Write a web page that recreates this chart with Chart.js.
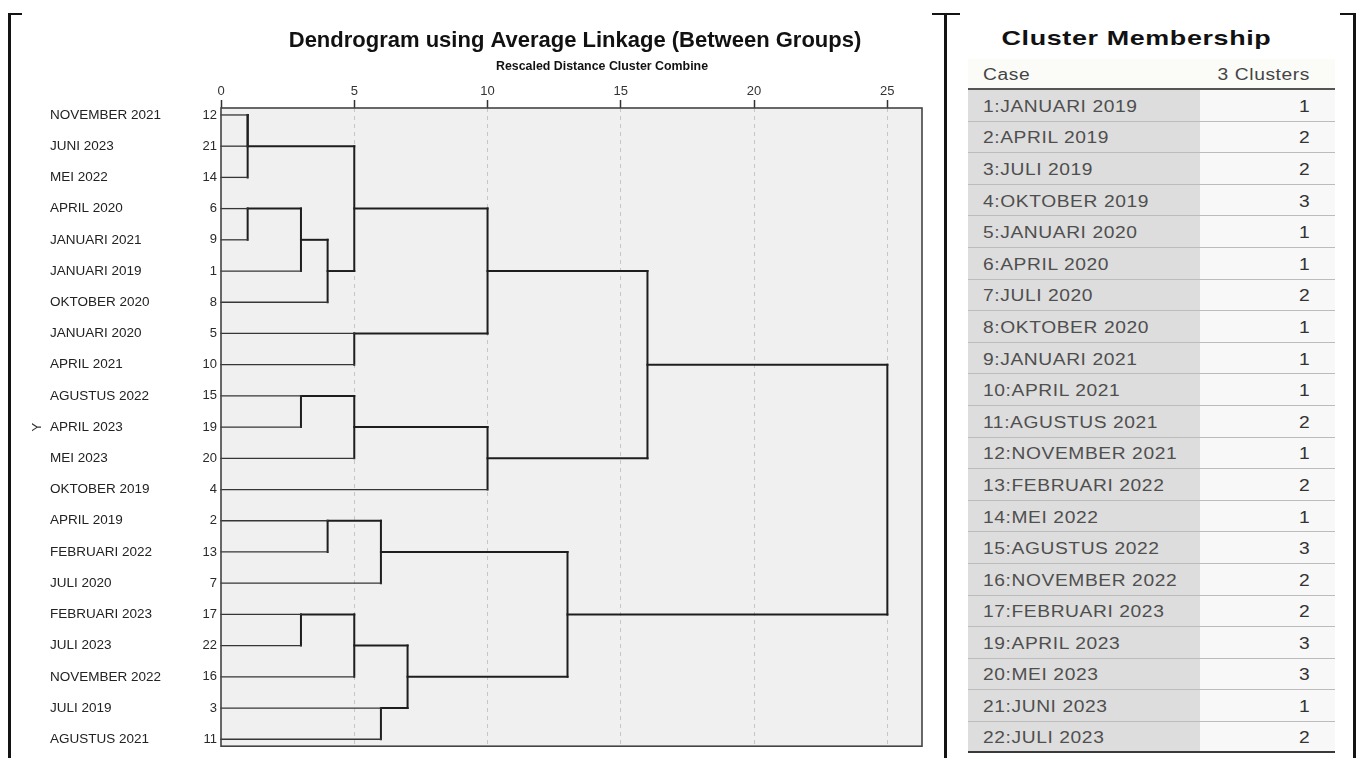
<!DOCTYPE html>
<html>
<head>
<meta charset="utf-8">
<title>Dendrogram using Average Linkage (Between Groups)</title>
<script src="https://cdn.jsdelivr.net/npm/chart.js@4.4.1/dist/chart.umd.min.js"></script>
<style>
  html, body { margin: 0; padding: 0; background: #fff; }
  body { width: 1359px; height: 758px; position: relative; overflow: hidden;
         font-family: "Liberation Sans", Arial, sans-serif; }
  #dendro { position: absolute; left: 0; top: 0; }
  .rule { position: absolute; background: #141414; }
  #membership-title { position: absolute; left: 986px; width: 300px; top: 24px; height: 28px;
         line-height: 28px; text-align: center; white-space: nowrap; }
  #membership-title span { display: inline-block; font-weight: bold; font-size: 21px;
         letter-spacing: 0.5px; color: #111; transform: scaleX(1.28); transform-origin: center center; }
  #membership { position: absolute; left: 968px; top: 59px; width: 367px; }
  .mrow { display: flex; box-sizing: border-box; }
  .mrow > div { display: flex; align-items: center; box-sizing: border-box; white-space: nowrap; }
  .mrow span { display: inline-block; font-size: 16px; letter-spacing: 0.5px; transform: scaleX(1.2); }
  .mhead { height: 31px; background: #fbfbf8; border-bottom: 2px solid #555; }
  .mhead > div { color: #444; }
  .mbody { height: 31.6px; border-bottom: 1px solid #bcbcbc; }
  .mbody.last { border-bottom: 2px solid #3a3a3a; }
  .mcase { width: 232px; padding-left: 15px; padding-top: 3px; }
  .mcase span { transform-origin: left center; }
  .mclus { width: 135px; padding-right: 25px; padding-top: 3px; justify-content: flex-end; }
  .mclus span { transform-origin: right center; }
  .mbody .mcase { background: #dddddd; color: #4f4f4f; }
  .mbody .mclus { background: #f8f8f8; color: #333; }
</style>
</head>
<body>
<canvas id="dendro" width="944" height="758"></canvas>

<div class="rule" style="left:8px;top:13px;width:2.5px;height:745px"></div>
<div class="rule" style="left:8px;top:13px;width:14px;height:2px"></div>
<div class="rule" style="left:932px;top:13px;width:28px;height:2px"></div>
<div class="rule" style="left:944px;top:13px;width:2.5px;height:745px"></div>
<div class="rule" style="left:1340px;top:13px;width:16px;height:2px"></div>
<div class="rule" style="left:1353px;top:13px;width:2.5px;height:745px"></div>

<div id="membership-title"><span>Cluster Membership</span></div>
<div id="membership">
  <div class="mrow mhead"><div class="mcase"><span>Case</span></div><div class="mclus"><span>3 Clusters</span></div></div>
  <div id="membership-rows"></div>
</div>

<script>
// ---- Cluster membership table (cases in file order) ----
const caseIds = [1, 2, 3, 4, 5, 6, 7, 8, 9, 10, 11, 12, 13, 14, 15, 16, 17, 19, 20, 21, 22];
const caseNames = ['JANUARI 2019', 'APRIL 2019', 'JULI 2019', 'OKTOBER 2019', 'JANUARI 2020',
  'APRIL 2020', 'JULI 2020', 'OKTOBER 2020', 'JANUARI 2021', 'APRIL 2021', 'AGUSTUS 2021',
  'NOVEMBER 2021', 'FEBRUARI 2022', 'MEI 2022', 'AGUSTUS 2022', 'NOVEMBER 2022',
  'FEBRUARI 2023', 'APRIL 2023', 'MEI 2023', 'JUNI 2023', 'JULI 2023'];
const clusterOf = [1, 2, 2, 3, 1, 1, 2, 1, 1, 1, 2, 1, 2, 1, 3, 2, 2, 3, 3, 1, 2];

// ---- Dendrogram: leaf order (top to bottom) and agglomeration steps ----
const leafOrder = [12, 21, 14, 6, 9, 1, 8, 5, 10, 15, 19, 20, 4, 2, 13, 7, 17, 22, 16, 3, 11];
// 'cN' = case N, 'mK' = cluster formed at step K
const mergeA = ['c12', 'm0', 'c6', 'm2', 'm3', 'm1', 'c5', 'm5', 'c15', 'm8',
                'm9', 'm7', 'c2', 'm12', 'c17', 'm14', 'c3', 'm15', 'm13', 'm11'];
const mergeB = ['c21', 'c14', 'c9', 'c1', 'c8', 'm4', 'c10', 'm6', 'c19', 'c20',
                'c4', 'm10', 'c13', 'c7', 'c22', 'c16', 'c11', 'm16', 'm17', 'm18'];
const mergeDist = [1, 1, 1, 3, 4, 5, 5, 10, 3, 5, 10, 16, 4, 6, 3, 5, 6, 7, 13, 25];
const distTicks = [0, 5, 10, 15, 20, 25];

const titleText = 'Dendrogram using Average Linkage (Between Groups)';
const subtitleText = 'Rescaled Distance Cluster Combine';
const FONT = '"Liberation Sans", Arial, sans-serif';

// table rows
const rowsEl = document.getElementById('membership-rows');
caseIds.forEach((id, i) => {
  const row = document.createElement('div');
  row.className = 'mrow mbody' + (i === caseIds.length - 1 ? ' last' : '');
  const c1 = document.createElement('div'); c1.className = 'mcase';
  const t1 = document.createElement('span'); t1.textContent = id + ':' + caseNames[i]; c1.appendChild(t1);
  const c2 = document.createElement('div'); c2.className = 'mclus';
  const t2 = document.createElement('span'); t2.textContent = clusterOf[i]; c2.appendChild(t2);
  row.appendChild(c1); row.appendChild(c2);
  rowsEl.appendChild(row);
});

// build the link segments of the tree
const caseName = id => caseNames[caseIds.indexOf(id)];
const nodeRow = {}, nodeDist = {};
leafOrder.forEach((id, r) => { nodeRow['c' + id] = r; nodeDist['c' + id] = 0; });
const links = [];
mergeDist.forEach((d, i) => {
  const a = mergeA[i], b = mergeB[i];
  for (const n of [a, b]) {
    links.push({ pts: [{ x: nodeDist[n], y: nodeRow[n] }, { x: d, y: nodeRow[n] }], leaf: n[0] === 'c' });
  }
  links.push({ pts: [{ x: d, y: nodeRow[a] }, { x: d, y: nodeRow[b] }], leaf: false });
  nodeRow['m' + i] = Math.floor((nodeRow[a] + nodeRow[b]) / 2);
  nodeDist['m' + i] = d;
});

const rowPad = 0.223;
const rowMin = -rowPad, rowMax = leafOrder.length - 1 + rowPad;
const rowTicks = s => { s.ticks = leafOrder.map((c, i) => ({ value: i })); };

const plotFrame = {
  id: 'plotFrame',
  beforeDraw(chart) {
    const { ctx, chartArea: a } = chart;
    ctx.save();
    ctx.fillStyle = '#f0f0f0';
    ctx.fillRect(a.left, a.top, a.right - a.left, a.bottom - a.top);
    ctx.restore();
  },
  afterDatasetsDraw(chart) {
    const { ctx, chartArea: a } = chart;
    ctx.save();
    ctx.strokeStyle = '#444';
    ctx.lineWidth = 1.6;
    ctx.strokeRect(a.left, a.top, a.right - a.left, a.bottom - a.top);
    ctx.restore();
  }
};

const headings = {
  id: 'headings',
  afterDraw(chart) {
    const { ctx, chartArea: a } = chart;
    ctx.save();
    ctx.fillStyle = '#111';
    ctx.textAlign = 'center';
    ctx.textBaseline = 'middle';
    ctx.font = 'bold 22px ' + FONT;
    ctx.fillText(titleText, a.left + 354, a.top - 67);
    ctx.font = 'bold 12.4px ' + FONT;
    ctx.fillText(subtitleText, a.left + 381, a.top - 41);
    ctx.restore();
  }
};

new Chart(document.getElementById('dendro'), {
  type: 'scatter',
  data: {
    datasets: links.map(l => ({
      data: l.pts,
      showLine: true,
      borderColor: l.leaf ? '#363636' : '#1e1e1e',
      borderWidth: l.leaf ? 1.3 : 2,
      borderCapStyle: 'square',
      pointRadius: 0,
      pointHoverRadius: 0,
      clip: false,
      xAxisID: 'x',
      yAxisID: 'y'
    }))
  },
  options: {
    responsive: false,
    animation: false,
    events: [],
    layout: { padding: { left: 0, top: 78, right: 22, bottom: 9 } },
    plugins: { legend: { display: false }, tooltip: { enabled: false }, title: { display: false } },
    scales: {
      x: {
        type: 'linear', position: 'top', min: 0, max: 26.3,
        afterBuildTicks: s => { s.ticks = distTicks.map(v => ({ value: v })); },
        afterFit: s => { s.height = 30; },
        ticks: { color: '#333', font: { family: FONT, size: 13 }, padding: 1, autoSkip: false, maxRotation: 0 },
        grid: {
          color: c => (c.tick && c.tick.value === 0) ? 'rgba(0,0,0,0)' : '#c6c6c6',
          lineWidth: 1, tickColor: '#333', tickLength: 8, tickWidth: 1.5
        },
        border: { display: false, dash: [4, 4] }
      },
      y: {
        type: 'linear', position: 'left', reverse: true, min: rowMin, max: rowMax, weight: 0,
        afterBuildTicks: rowTicks,
        afterFit: s => { s.width = 41; },
        ticks: { callback: v => leafOrder[v], color: '#2a2a2a', font: { family: FONT, size: 13 }, padding: 4, autoSkip: false },
        grid: { display: false, drawTicks: false },
        border: { display: false }
      },
      yName: {
        type: 'linear', position: 'left', reverse: true, min: rowMin, max: rowMax, weight: 1,
        afterBuildTicks: rowTicks,
        afterFit: s => { s.width = 130; },
        ticks: { callback: v => caseName(leafOrder[v]), crossAlign: 'far', color: '#222', font: { family: FONT, size: 13.5 }, padding: 0, autoSkip: false },
        grid: { display: false, drawTicks: false },
        border: { display: false }
      },
      yTitle: {
        type: 'linear', position: 'left', reverse: true, min: rowMin, max: rowMax, weight: 2,
        afterFit: s => { s.width = 50; },
        ticks: { display: false },
        grid: { display: false, drawTicks: false },
        border: { display: false },
        title: { display: true, text: 'Y', color: '#333', font: { family: FONT, size: 13 }, padding: { top: 30, bottom: 0 } }
      }
    }
  },
  plugins: [plotFrame, headings]
});
</script>
</body>
</html>
